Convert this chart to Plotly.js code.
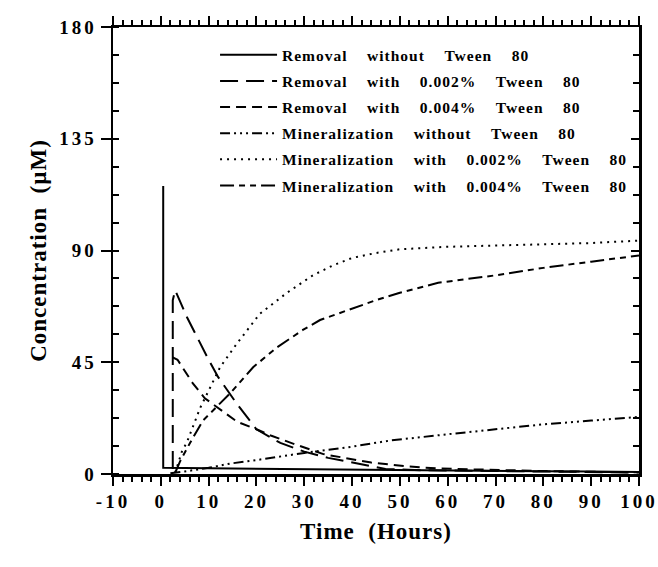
<!DOCTYPE html>
<html>
<head>
<meta charset="utf-8">
<script src="https://cdn.plot.ly/plotly-3.0.1.min.js"></script>
<style>
html,body{margin:0;padding:0;background:#fff;}
#chart{width:658px;height:567px;}
.xtick text, .ytick text { letter-spacing: 3px; }
text.legendtext { letter-spacing: 1px; }
text.xtitle, text.ytitle { letter-spacing: 1px; }
</style>
</head>
<body>
<div id="chart"></div>
<script>
const SP = "\u00a0\u00a0\u00a0\u00a0";
// Series names
const seriesNames = [
  ["Removal", "without", "Tween", "80"].join(SP),
  ["Removal", "with", "0.002%", "Tween", "80"].join(SP),
  ["Removal", "with", "0.004%", "Tween", "80"].join(SP),
  ["Mineralization", "without", "Tween", "80"].join(SP),
  ["Mineralization", "with", "0.002%", "Tween", "80"].join(SP),
  ["Mineralization", "with", "0.004%", "Tween", "80"].join(SP)
];

// Removal without Tween 80 (solid)
const remNoneX = [0.5, 0.5, 5, 10, 20, 30, 40, 50, 60, 70, 80, 90, 100];
const remNoneY = [116, 2.5, 2.4, 2.3, 2.1, 1.9, 1.7, 1.5, 1.3, 1.2, 1.1, 1.0, 0.8];

// Removal with 0.002% Tween 80 (long dash)
const rem002X = [2.5, 2.5, 3, 5.5, 10, 12, 16, 20, 25, 30, 35, 40, 47, 55, 60, 70, 80, 90, 100];
const rem002Y = [2, 70, 74, 63, 46, 39, 28, 18, 12.5, 9, 6.5, 4.5, 2, 1.5, 1.4, 1.2, 1.0, 0.8, 0.6];

// Removal with 0.004% Tween 80 (medium dash)
const rem004X = [2.5, 3.5, 6.7, 9.2, 11.7, 16, 20, 23, 28, 34, 44, 52, 58, 65, 70, 80, 90, 100];
const rem004Y = [47, 46, 36.5, 30.5, 27, 21, 18, 15.5, 12, 8, 4.6, 3, 2.2, 1.8, 1.5, 1.2, 0.9, 0.7];

// Mineralization without Tween 80 (dash-dot-dot)
const minNoneX = [2, 5, 10, 14.5, 20, 27, 30, 40, 48, 60, 70, 80, 90, 100];
const minNoneY = [0.3, 1, 2.5, 4.2, 5.6, 7.6, 8.5, 11, 13.5, 16, 18, 20, 21.5, 23];

// Mineralization with 0.002% Tween 80 (dotted)
const min002X = [3, 4.4, 5.5, 8.2, 12.4, 15.9, 20.7, 26.4, 31.8, 36, 40, 45, 50, 60, 70, 80, 90, 100];
const min002Y = [0.5, 9, 13, 26.5, 43, 52.5, 64.5, 73, 80, 84, 87, 89, 90.5, 91.5, 92, 92.5, 93, 94];

// Mineralization with 0.004% Tween 80 (long dash - short dash)
const min004X = [3, 4, 6.1, 8.8, 14.5, 19.3, 24.3, 29.7, 33.3, 40, 45, 50, 58, 70, 80, 90, 100];
const min004Y = [0.5, 5, 12.5, 21.5, 32.5, 43, 51, 58, 62, 66.5, 70, 73, 77, 80, 83, 85.5, 88];

// Tick labels
const xTickVals = [-10, 0, 10, 20, 30, 40, 50, 60, 70, 80, 90, 100];
const xTickText = ["-10", "0", "10", "20", "30", "40", "50", "60", "70", "80", "90", "100"];
const yTickVals = [0, 45, 90, 135, 180];
const yTickText = ["0", "45", "90", "135", "180"];

const FONT = "Liberation Serif, Times New Roman, serif";
const dashes = ["solid", "18px,8px", "10px,6px", "10px,4px,2px,4px,2px,4px,2px,4px", "2px,5px", "14px,5px,6px,5px,6px,5px"];
const xs = [remNoneX, rem002X, rem004X, minNoneX, min002X, min004X];
const ys = [remNoneY, rem002Y, rem004Y, minNoneY, min002Y, min004Y];

const traces = xs.map((x, i) => ({
  x: x, y: ys[i], type: "scatter", mode: "lines", name: seriesNames[i],
  legendgroup: "g" + i,
  line: {color: "#000", width: 2, dash: dashes[i]}, hoverinfo: "skip"
}));
traces.push({x: [], y: [], xaxis: "x2", yaxis: "y2", type: "scatter", mode: "lines", showlegend: false, hoverinfo: "skip"});

const tickFont = {family: FONT, size: 19, color: "#000", weight: "bold"};
const titleFont = {family: FONT, size: 23, color: "#000", weight: "bold"};

const layout = {
  width: 658, height: 567,
  margin: {l: 113, r: 19, t: 27, b: 93},
  paper_bgcolor: "#fff", plot_bgcolor: "#fff",
  showlegend: true,
  legend: {
    x: 0.194, y: 0.975, xanchor: "left", yanchor: "top",
    bgcolor: "rgba(0,0,0,0)", borderwidth: 0,
    font: {family: FONT, size: 15.5, color: "#000", weight: "bold"},
    traceorder: "grouped", tracegroupgap: 3, itemwidth: 57
  },
  xaxis: {
    range: [-10, 100], tickvals: xTickVals, ticktext: xTickText,
    ticks: "outside", ticklen: 9, tickwidth: 2, tickcolor: "#000",
    minor: {dtick: 2, tick0: 0, ticks: "outside", ticklen: 5, tickwidth: 2, tickcolor: "#000"},
    showline: true, linewidth: 2.5, linecolor: "#000", mirror: false,
    showgrid: false, zeroline: false, tickfont: tickFont,
    title: {text: "Time\u00a0\u00a0(Hours)", font: titleFont, standoff: 12}
  },
  yaxis: {
    range: [0, 180], tickvals: yTickVals, ticktext: yTickText,
    ticks: "outside", ticklen: 10, tickwidth: 2, tickcolor: "#000",
    minor: {dtick: 11.25, tick0: 0, ticks: "inside", ticklen: 6, tickwidth: 2, tickcolor: "#000"},
    showline: true, linewidth: 2.5, linecolor: "#000",
    showgrid: false, zeroline: false, tickfont: tickFont,
    title: {text: "Concentration\u00a0\u00a0(µM)", font: titleFont, standoff: 6}
  },
  xaxis2: {
    overlaying: "x", side: "top", range: [-10, 100], dtick: 10, tick0: 0,
    ticks: "outside", ticklen: 9, tickwidth: 2, tickcolor: "#000",
    minor: {dtick: 2, tick0: 0, ticks: "outside", ticklen: 5, tickwidth: 2, tickcolor: "#000"},
    showline: true, linewidth: 2.5, linecolor: "#000",
    showticklabels: false, showgrid: false, zeroline: false
  },
  yaxis2: {
    overlaying: "y", side: "right", range: [0, 180], dtick: 45, tick0: 0,
    ticks: "inside", ticklen: 8, tickwidth: 2, tickcolor: "#000",
    minor: {dtick: 11.25, tick0: 0, ticks: "inside", ticklen: 6, tickwidth: 2, tickcolor: "#000"},
    showline: true, linewidth: 2.5, linecolor: "#000",
    showticklabels: false, showgrid: false, zeroline: false
  }
};

Plotly.newPlot("chart", traces, layout, {displayModeBar: false, staticPlot: true});
</script>
</body>
</html>
